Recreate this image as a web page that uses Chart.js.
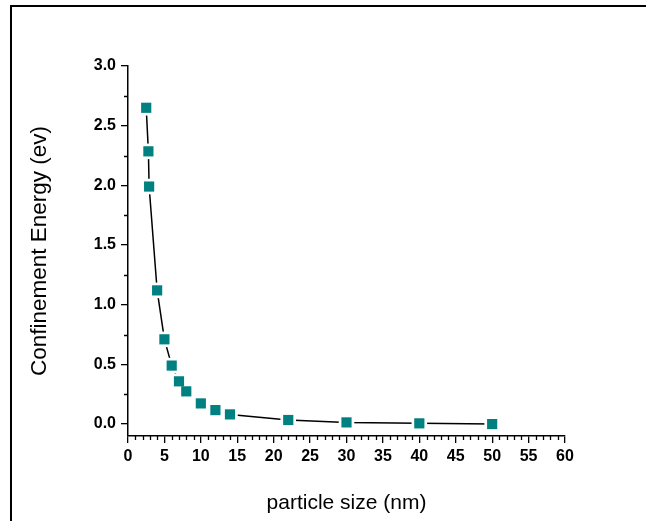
<!DOCTYPE html>
<html>
<head>
<meta charset="utf-8">
<script src="https://cdn.jsdelivr.net/npm/chart.js@4"></script>
<style>
  body { margin: 0; background: #fff; }
  #wrap { position: relative; width: 646px; height: 521px; }
  #cadre { position: absolute; left: 10px; top: 5px; right: 0; bottom: 0;
           border-top: 2px solid #000; border-left: 2px solid #000; }
  canvas { position: absolute; left: 0; top: 0; }
</style>
</head>
<body>
<div id="wrap">
  <div id="cadre"></div>
  <canvas id="g_energie" width="646" height="521"></canvas>
</div>
<script>
// taille des particules (nm)
const tailles = [2.5, 2.8, 2.9, 4, 5, 6, 7, 8, 10, 12, 14, 22, 30, 40, 50];
// energie de confinement (ev)
const energies = [2.65, 2.285, 1.99, 1.12, 0.71, 0.49, 0.358, 0.274, 0.173, 0.117, 0.081, 0.034, 0.014, 0.006, 0.0];
// graduations
const ticksX = [0, 5, 10, 15, 20, 25, 30, 35, 40, 45, 50, 55, 60];
const ticksY = [0, 0.5, 1.0, 1.5, 2.0, 2.5, 3.0];

const points = tailles.map(function(t, i) {
    return { x: t, y: energies[i] };
});

const police = "'Liberation Sans', Arial, sans-serif";

// petites graduations (pas de 1 en x, 0.25 en y)
const minorTicks = {
    id: 'minorTicks',
    afterDraw(chart) {
        const ctx = chart.ctx;
        const sx = chart.scales.x, sy = chart.scales.y;
        const area = chart.chartArea;
        ctx.save();
        ctx.strokeStyle = '#000';
        ctx.lineWidth = 1.3;
        ctx.beginPath();
        for (let v = sx.min; v <= sx.max; v += 1) {
            if (v % 5 === 0) continue;
            const px = Math.round(sx.getPixelForValue(v)) + 0.5;
            ctx.moveTo(px, area.bottom);
            ctx.lineTo(px, area.bottom + 4);
        }
        for (let v = 0.25; v < sy.max; v += 0.5) {
            const py = Math.round(sy.getPixelForValue(v)) + 0.5;
            ctx.moveTo(area.left, py);
            ctx.lineTo(area.left - 4, py);
        }
        ctx.stroke();
        ctx.restore();
    }
};

const ctx = document.getElementById('g_energie').getContext('2d');
const config = {
    type: 'scatter',
    data: {
        datasets: [{
            // carrés teal par-dessus
            label: 'Confinement Energy',
            data: points,
            showLine: false,
            pointStyle: 'rect',
            pointRadius: 7.2,
            pointBackgroundColor: '#008080',
            pointBorderWidth: 0
        }, {
            // courbe noire, carrés blancs pour couper la ligne autour des symboles
            label: 'courbe',
            data: points,
            showLine: true,
            borderColor: '#000',
            borderWidth: 1.5,
            pointStyle: 'rect',
            pointRadius: 11,
            pointBackgroundColor: '#fff',
            pointBorderWidth: 0
        }]
    },
    options: {
        responsive: false,
        animation: false,
        events: [],
        layout: { padding: { left: 0, top: 66, right: 81, bottom: 0 } },
        plugins: { legend: { display: false }, tooltip: { enabled: false } },
        scales: {
            x: {
                type: 'linear',
                min: 0, max: 60,
                afterFit: function(scale) { scale.height = 85; },
                afterBuildTicks: function(scale) {
                    scale.ticks = ticksX.map(function(v) { return { value: v }; });
                },
                grid: { drawOnChartArea: false, tickLength: 7, color: '#000', lineWidth: 1.3 },
                border: { display: true, color: '#000', width: 1.5 },
                ticks: {
                    color: '#000', padding: 4, maxRotation: 0, autoSkip: false,
                    font: { family: police, size: 16, weight: 'bold' }
                },
                title: {
                    display: true, text: 'particle size (nm)', color: '#000',
                    font: { family: police, size: 21 }, padding: { top: 0, bottom: 5 }
                }
            },
            y: {
                type: 'linear',
                min: -0.1, max: 3.0,
                afterFit: function(scale) { scale.width = 128; },
                afterBuildTicks: function(scale) {
                    scale.ticks = ticksY.map(function(v) { return { value: v }; });
                },
                grid: { drawOnChartArea: false, tickLength: 7, color: '#000', lineWidth: 1.3 },
                border: { display: true, color: '#000', width: 1.5 },
                ticks: {
                    color: '#000', padding: 5,
                    font: { family: police, size: 16, weight: 'bold' },
                    callback: function(v) { return v.toFixed(1); }
                },
                title: {
                    display: true, text: 'Confinement Energy (ev)', color: '#000',
                    font: { family: police, size: 22.5 }, padding: { top: 26, bottom: 0 }
                }
            }
        }
    },
    plugins: [minorTicks]
};
const graphe = new Chart(ctx, config);
</script>
</body>
</html>
